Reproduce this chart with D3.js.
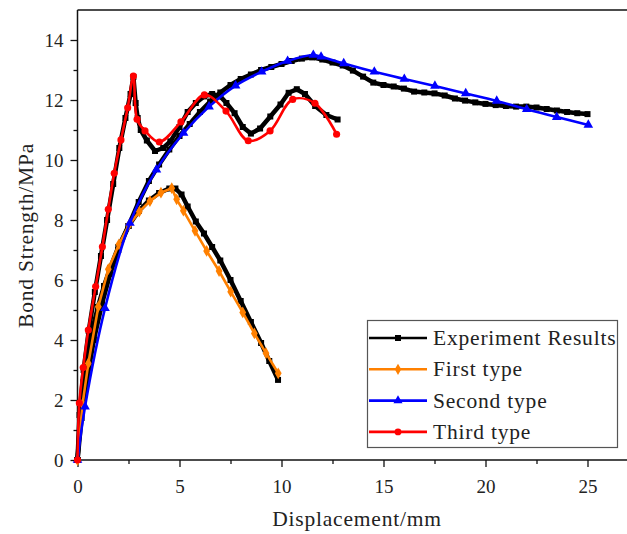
<!DOCTYPE html>
<html>
<head>
<meta charset="utf-8">
<script src="https://cdn.jsdelivr.net/npm/d3@7"></script>
<style>
  body { margin: 0; background: #fff; }
  text { font-family: "Liberation Serif", "DejaVu Serif", serif; fill: #222; }
  .label { font-size: 21.5px; letter-spacing: 0.8px; }
</style>
</head>
<body>
<svg id="chart" width="627" height="534"></svg>
<script>
// experimental curves (black), one per specimen type
var expFirst = [[0,0],[0.15,1.5],[0.3,2.6],[0.5,3.5],[0.75,4.4],[1.0,5.1],[1.3,5.8],[1.6,6.4],[2.0,7.1],[2.5,7.8],[3.0,8.3],[3.5,8.65],[4.0,8.9],[4.5,9.05],[4.8,9.05],[5.1,8.85],[5.4,8.45],[5.8,7.95],[6.2,7.55],[6.6,7.1],[7.0,6.65],[7.5,6.0],[8.0,5.3],[8.5,4.6],[9.0,3.9],[9.4,3.3],[9.83,2.67]];
var expSecond = [[0,0],[0.2,1.4],[0.5,2.8],[0.8,4.0],[1.2,5.2],[1.6,6.2],[2.0,7.0],[2.5,7.8],[3.0,8.6],[3.5,9.3],[4.0,9.85],[4.5,10.35],[5.0,10.8],[5.5,11.2],[6.0,11.6],[6.5,11.95],[7.0,12.25],[7.5,12.5],[8.0,12.7],[8.5,12.85],[9.0,13.0],[9.5,13.1],[10.0,13.2],[10.5,13.3],[11.0,13.38],[11.5,13.42],[12.0,13.35],[12.5,13.25],[13.0,13.15],[13.5,12.98],[14.0,12.78],[14.5,12.58],[15.0,12.5],[15.5,12.45],[16.0,12.38],[16.5,12.28],[17.0,12.25],[17.5,12.22],[18.0,12.15],[18.5,12.05],[19.0,11.98],[19.5,11.92],[20.0,11.87],[20.5,11.83],[21.0,11.8],[21.5,11.78],[22.0,11.78],[22.5,11.75],[23.0,11.7],[23.5,11.65],[24.0,11.6],[24.5,11.56],[25.0,11.53]];
var expThird = [[0,0],[0.1,1.5],[0.3,3.0],[0.55,4.3],[0.85,5.6],[1.15,6.8],[1.45,8.0],[1.75,9.2],[2.05,10.4],[2.35,11.4],[2.6,12.2],[2.74,12.77],[2.85,11.9],[2.95,11.4],[3.1,11.0],[3.4,10.65],[3.8,10.3],[4.2,10.4],[4.55,10.62],[5.0,11.1],[5.4,11.6],[5.8,11.9],[6.2,12.12],[6.6,12.2],[7.0,12.12],[7.3,11.9],[7.7,11.56],[8.1,11.1],[8.5,10.88],[8.95,11.05],[9.45,11.45],[9.95,11.85],[10.35,12.24],[10.75,12.36],[11.15,12.2],[11.65,11.8],[12.2,11.5],[12.75,11.35]];

// model curves
var firstType = [[0,0],[0.25,1.87],[0.53,3.22],[1.02,5.11],[1.51,6.36],[2.03,7.19],[2.52,7.83],[3.03,8.28],[3.55,8.63],[4.09,8.91],[4.62,9.06],[4.86,8.69],[5.19,8.31],[5.76,7.64],[6.33,6.97],[6.94,6.3],[7.51,5.61],[8.1,4.92],[8.67,4.22],[9.24,3.56],[9.84,2.89]];
var secondType = [[0,0],[0.37,1.78],[1.35,5.06],[2.57,7.9],[3.87,9.68],[5.2,10.9],[6.45,11.78],[7.75,12.48],[9.03,12.94],[10.3,13.3],[11.56,13.5],[11.94,13.44],[13.05,13.22],[14.55,12.94],[16.02,12.7],[17.52,12.47],[19.03,12.22],[20.55,11.97],[22.02,11.69],[23.49,11.43],[25.04,11.17]];
var thirdType = [[0,0],[0.09,1.9],[0.28,3.08],[0.53,4.33],[0.89,5.78],[1.22,7.11],[1.51,8.36],[1.8,9.56],[2.13,10.67],[2.46,11.74],[2.74,12.8],[2.92,11.36],[3.31,10.97],[4.01,10.6],[5.07,11.27],[6.22,12.17],[7.28,11.63],[8.37,10.64],[9.44,10.97],[10.55,12.02],[11.64,11.89],[12.7,10.86]];

var legendNames = ["Experiment Results", "First type", "Second type", "Third type"];
var xTicks = [0, 5, 10, 15, 20, 25];
var yTicks = [0, 2, 4, 6, 8, 10, 12, 14];

var svg = d3.select("#chart");
var width = 627;

var x = d3.scaleLinear().domain([0, 25]).range([77.5, 587.5]);
var y = d3.scaleLinear().domain([0, 15]).range([460, 10]);

// frame: left, bottom and top lines (right side cut off)
svg.append("line").attr("x1", 77.5).attr("x2", width).attr("y1", y(0)).attr("y2", y(0))
   .attr("stroke", "#111").attr("stroke-width", 1.5);
svg.append("line").attr("x1", 77.5).attr("x2", width).attr("y1", y(15)).attr("y2", y(15))
   .attr("stroke", "#111").attr("stroke-width", 1.5);
svg.append("line").attr("x1", 77.5).attr("x2", 77.5).attr("y1", y(0)).attr("y2", y(15))
   .attr("stroke", "#111").attr("stroke-width", 1.5);

// minor ticks
svg.append("g").attr("transform", "translate(0," + y(0) + ")")
   .call(d3.axisBottom(x).tickValues(d3.range(2.5, 27, 5)).tickSize(4).tickFormat(""))
   .call(function(g) { g.select(".domain").remove(); });
svg.append("g").attr("transform", "translate(77.5,0)")
   .call(d3.axisLeft(y).tickValues(d3.range(1, 15, 2)).tickSize(4).tickFormat(""))
   .call(function(g) { g.select(".domain").remove(); });

// major ticks
svg.append("g").attr("transform", "translate(0," + y(0) + ")")
   .call(d3.axisBottom(x).tickValues(xTicks).tickSize(7).tickPadding(13));
svg.append("g").attr("transform", "translate(77.5,0)")
   .call(d3.axisLeft(y).tickValues(yTicks).tickSize(7).tickPadding(7));
svg.selectAll(".domain").remove();
svg.selectAll(".tick line").attr("stroke", "#111").attr("stroke-width", 1.3);
svg.selectAll(".tick text").style("font-family", "Liberation Serif").style("font-size", "19px").attr("fill", "#222");

svg.append("text").attr("class", "label").attr("x", 357).attr("y", 526).attr("text-anchor", "middle")
   .text("Displacement/mm");
svg.append("text").attr("class", "label").attr("transform", "translate(33,235.5) rotate(-90)")
   .attr("text-anchor", "middle").text("Bond Strength/MPa");

var linear = d3.line().x(function(d) { return x(d[0]); }).y(function(d) { return y(d[1]); });
var smooth = d3.line().x(function(d) { return x(d[0]); }).y(function(d) { return y(d[1]); })
   .curve(d3.curveCatmullRom.alpha(0.5));

var plot = svg.append("g");

// experiment results: thick black with square markers
[expFirst, expSecond, expThird].forEach(function(s) {
  plot.append("path").attr("d", linear(s)).attr("fill", "none")
      .attr("stroke", "#000").attr("stroke-width", 4.5).attr("stroke-linejoin", "round");
  plot.selectAll(null).data(s).enter().append("rect")
      .attr("x", function(d) { return x(d[0]) - 3; })
      .attr("y", function(d) { return y(d[1]) - 3; })
      .attr("width", 6).attr("height", 6).attr("fill", "#000");
});

var models = [
  { data: firstType, color: "#ff8000", symbol: d3.symbolDiamond, size: 40, line: linear },
  { data: secondType, color: "#0000ff", symbol: d3.symbolTriangle, size: 40, line: smooth },
  { data: thirdType, color: "#ff0000", symbol: d3.symbolCircle, size: 40, line: smooth }
];

models.forEach(function(m) {
  plot.append("path").attr("d", m.line(m.data)).attr("fill", "none")
      .attr("stroke", m.color).attr("stroke-width", 2.6);
  plot.selectAll(null).data(m.data).enter().append("path")
      .attr("d", d3.symbol().type(m.symbol).size(m.size))
      .attr("transform", function(d) { return "translate(" + x(d[0]) + "," + y(d[1]) + ")"; })
      .attr("fill", m.color);
});

// legend
var legend = svg.append("g");
legend.append("rect").attr("x", 367.5).attr("y", 320.5).attr("width", 250).attr("height", 127)
      .attr("fill", "#fff").attr("stroke", "#555").attr("stroke-width", 1.2);
var legendColors = ["#000", "#ff8000", "#0000ff", "#ff0000"];
var legendSymbols = [d3.symbolSquare, d3.symbolDiamond, d3.symbolTriangle, d3.symbolCircle];
legendNames.forEach(function(name, i) {
  var ly = 338 + i * 31.3;
  legend.append("line").attr("x1", 369).attr("x2", 427).attr("y1", ly).attr("y2", ly)
        .attr("stroke", legendColors[i]).attr("stroke-width", 2.6);
  legend.append("path").attr("d", d3.symbol().type(legendSymbols[i]).size(36))
        .attr("transform", "translate(398," + ly + ")").attr("fill", legendColors[i]);
  legend.append("text").attr("class", "label").attr("x", 433).attr("y", ly + 7).text(name);
});
</script>
</body>
</html>
